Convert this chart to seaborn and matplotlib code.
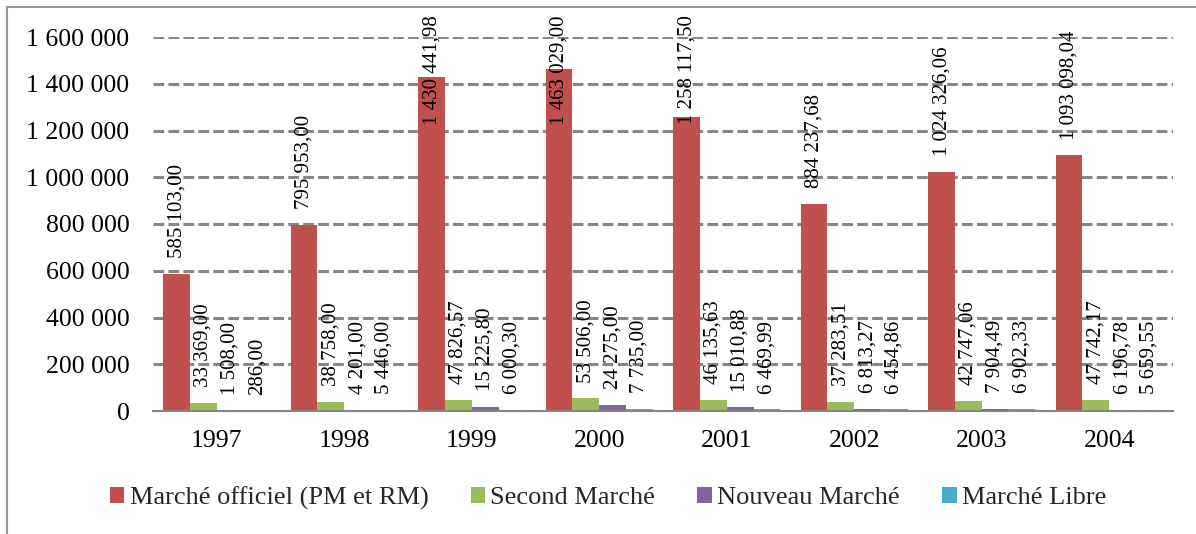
import matplotlib
matplotlib.use("Agg")
import matplotlib.pyplot as plt
import seaborn as sns
import pandas as pd
from matplotlib.ticker import FuncFormatter
from matplotlib.patches import Rectangle, Patch

years = ["1997", "1998", "1999", "2000", "2001", "2002", "2003", "2004"]
series_names = ["Marché officiel (PM et RM)", "Second Marché", "Nouveau Marché", "Marché Libre"]
officiel = [585103.00, 795953.00, 1430441.98, 1463029.00, 1258117.50, 884237.68, 1024326.06, 1093098.04]
second = [33369.00, 38758.00, 47826.57, 53506.00, 46135.63, 37283.51, 42747.06, 47742.17]
nouveau = [1508.00, 4201.00, 15225.80, 24275.00, 15010.88, 6813.27, 7904.49, 6196.78]
libre = [286.00, 5446.00, 6000.30, 7735.00, 6469.99, 6454.86, 6902.33, 5659.55]
colors = ["#C0504D", "#9BBB59", "#8064A2", "#4BACC6"]

rows = []
for name, vals in zip(series_names, [officiel, second, nouveau, libre]):
    for y, v in zip(years, vals):
        rows.append({"Année": y, "Marché": name, "Valeur": v})
df = pd.DataFrame(rows)

sns.set_theme(style="white")
plt.rcParams["font.family"] = ["Liberation Serif", "DejaVu Serif"]

W, H, DPI = 1196, 534, 100
fig = plt.figure(figsize=(W / DPI, H / DPI), dpi=DPI)
ax = fig.add_axes([153 / W, 1 - 411 / H, (1173 - 153) / W, (411 - 37) / H])

sns.barplot(data=df, x="Année", y="Valeur", hue="Marché", order=years,
            hue_order=series_names, palette=colors, saturation=1, width=0.84,
            ax=ax, legend=False, edgecolor="none")

ax.set_ylim(0, 1600000)
ax.set_yticks(range(0, 1600001, 200000))
ax.yaxis.set_major_formatter(FuncFormatter(lambda v, p: f"{int(v):,}".replace(",", " ")))
ax.set_xlabel("")
ax.set_ylabel("")
ax.grid(axis="y", color="#868686", linestyle=(0, (3.5, 1.4)), linewidth=2.2)
ax.set_axisbelow(True)
for s in ["left", "right", "top"]:
    ax.spines[s].set_visible(False)
ax.spines["bottom"].set_color("#868686")
ax.spines["bottom"].set_linewidth(1.5)
ax.tick_params(axis="y", length=0, pad=17, labelsize=18.5, colors="black")
ax.tick_params(axis="x", length=0, pad=14, labelsize=18.5, colors="black")


def fr(v):
    s = f"{v:,.2f}"
    return s.replace(",", " ").replace(".", ",")


texts = []
for cont in ax.containers:
    for bar in cont:
        h = bar.get_height()
        x = bar.get_x() + bar.get_width() / 2
        t = ax.annotate(fr(h), xy=(x, h), xytext=(0, 11.5), textcoords="offset points",
                        rotation=90, ha="center", va="bottom", fontsize=15,
                        color="black", annotation_clip=False)
        texts.append(t)

fig.canvas.draw()
limit = H - 15
for t in texts:
    bb = t.get_window_extent()
    if bb.y1 > limit:
        excess = bb.y1 - limit
        ox, oy = t.xyann
        t.xyann = (ox, oy - excess * 72 / DPI)

handles = [Patch(facecolor=c, edgecolor="none") for c in colors]
fig.legend(handles, series_names, loc="center", bbox_to_anchor=(608 / W, 1 - 498 / H),
           ncol=4, frameon=False, fontsize=19, handlelength=0.55, handleheight=0.55,
           handletextpad=0.2, columnspacing=1.6, borderaxespad=0, borderpad=0)

fig.patches.append(Rectangle((7 / W, -0.1), 1.2, 1.1 - 7 / H,
                             transform=fig.transFigure, fill=False,
                             edgecolor="#9a9a9a", linewidth=1.5))

fig.savefig("out.png", dpi=DPI)
